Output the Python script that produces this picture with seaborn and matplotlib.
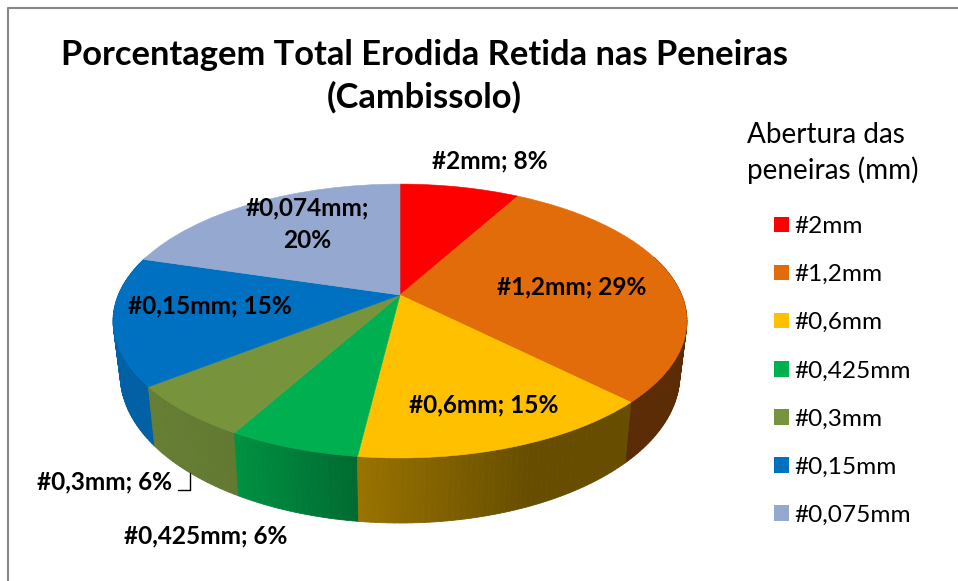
import numpy as np
import matplotlib
matplotlib.use("Agg")
import matplotlib.pyplot as plt
from matplotlib.transforms import Transform
from matplotlib.colors import to_rgb
import seaborn as sns

# ---- data ----
categories = ["#2mm", "#1,2mm", "#0,6mm", "#0,425mm", "#0,3mm", "#0,15mm", "#0,075mm"]
percent = [8.1, 29.3, 14.5, 6.2, 6.3, 15.1, 20.4]
slice_labels = ["#2mm; 8%", "#1,2mm; 29%", "#0,6mm; 15%", "#0,425mm; 6%",
                "#0,3mm; 6%", "#0,15mm; 15%", "#0,074mm;\n20%"]
colors = ["#FF0000", "#E26B0A", "#FFC000", "#00B050", "#77933C", "#0070C0", "#95A9D0"]
title = "Porcentagem Total Erodida Retida nas Peneiras\n(Cambissolo)"
legend_title = "Abertura das\npeneiras (mm)"

# ---- layout (pixels) ----
label_xy = [(490, 161), (572, 287), (484, 405), (206, 536), (105, 482), (210, 306), (307, 224)]
CX, CY, B, A, K = 400.0, 295.0, 281.7, 132.0, 0.19

sns.set_theme(style="white", rc={"text.color": "black"})
plt.rcParams["font.family"] = ["Lato", "DejaVu Sans"]
palette = sns.color_palette(colors)


class Perspective(Transform):
    """Tilted-disc projection of the unit pie onto the pixel plane."""
    input_dims = 2
    output_dims = 2
    is_affine = False

    def __init__(self, sx=1.0, sy=1.0, drop=0.0):
        super().__init__()
        self.sx, self.sy, self.drop = sx, sy, drop

    def transform_non_affine(self, values):
        v = np.asarray(values, dtype=float)
        w = 1 + K * v[:, 1]
        return np.column_stack([CX + self.sx * B * v[:, 0] / w,
                                CY - self.sy * A * v[:, 1] / w + self.drop])


fig = plt.figure(figsize=(9.58, 5.81), dpi=100, facecolor="white")
ax = fig.add_axes([0, 0, 1, 1])
wedges, _ = ax.pie(percent, colors=palette, startangle=90, counterclock=False,
                   wedgeprops={"linewidth": 0.4, "zorder": 3})
top = Perspective()
for w, c in zip(wedges, palette):
    w.set_edgecolor(c)
    w.set_transform(top + ax.transData)
ax.set_aspect("auto")
ax.set_xlim(0, 958)
ax.set_ylim(581, 0)
ax.set_axis_off()

# side wall, between the upper rim and a slightly smaller, lower rim
bottom = Perspective(sx=0.975, sy=1.08, drop=52)
strips = []
for w, c in zip(wedges, palette):
    t1, t2 = w.theta1, w.theta2
    n = max(int(t2 - t1), 1)
    edges = np.linspace(t1, t2, n + 1)
    for a0, a1 in zip(edges[:-1], edges[1:]):
        if np.sin(np.radians((a0 + a1) / 2)) > 0.3:
            continue
        u = np.array([[np.cos(np.radians(a)), np.sin(np.radians(a))] for a in (a0, a1)])
        up, lo = top.transform(u), bottom.transform(u)
        poly = np.vstack([up, lo[::-1]])
        shade = np.interp(poly[:, 0].mean(), [150, 240, 360, 530], [0.86, 0.82, 0.60, 0.40])
        strips.append((np.sin(np.radians((a0 + a1) / 2)), poly, tuple(np.array(to_rgb(c)) * shade)))
for _, poly, col in sorted(strips, key=lambda s: -s[0]):
    ax.fill(poly[:, 0], poly[:, 1], color=col, lw=0.6, zorder=2)

# chart frame
ax.plot([8, 8, 958], [581, 7.5, 7.5], color="#868686", lw=1.5, clip_on=False, zorder=1)

# data labels
for txt, (x, y) in zip(slice_labels, label_xy):
    ax.text(x, y, txt, ha="center", va="center", fontsize=17.6, fontweight="bold",
            color="black", zorder=5, linespacing=1.5)
ax.plot([178, 190, 190], [490, 490, 473], color="black", lw=1.0, zorder=5)

# title
ax.set_title(title, x=424.5 / 958, y=1 - 84.5 / 581, va="center", ha="center",
             fontsize=24.8, fontweight="bold", color="black", linespacing=1.38)

# legend
ax.text(747, 153, legend_title, ha="left", va="center", fontsize=20.1, color="black",
        linespacing=1.33)
leg = ax.legend(wedges, categories, frameon=False, fontsize=17.6,
                loc="upper left", bbox_to_anchor=(774 / 958, 1 - 216 / 581),
                handlelength=0.61, handleheight=0.61, handletextpad=0.22,
                labelspacing=1.11, borderpad=0, borderaxespad=0)
for h in leg.legend_handles:
    h.set_linewidth(0)

fig.savefig("out.png", dpi=100)
